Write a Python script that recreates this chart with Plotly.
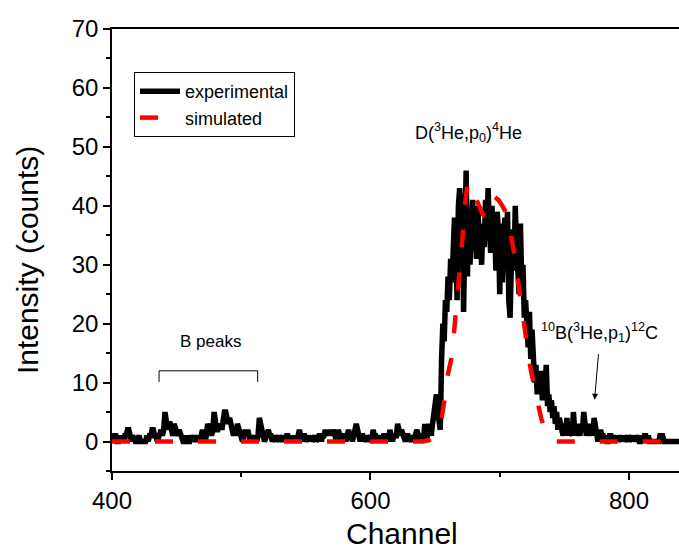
import plotly.graph_objects as go

# ---------------- data ----------------
exp_start = 400
exp_counts = [
    1,0,1,1,0,0,1,0,1,0,
    1,1,2,2,1,0,1,0,0,0,
    1,1,0,0,0,0,0,1,0,1,
    1,2,2,1,1,0,1,1,2,1,
    2,5,3,2,3,3,2,1,3,2,
    1,1,2,1,0,0,0,1,0,0,
    0,1,0,0,1,0,0,1,0,1,
    2,1,0,1,3,2,3,1,2,5,
    3,2,2,3,3,2,4,5,5,4,
    3,4,3,2,1,2,1,3,2,1,
    1,0,1,2,1,2,1,0,1,0,
    0,1,0,1,4,3,1,1,0,1,
    1,2,1,1,0,1,1,0,1,1,
    0,1,1,0,1,1,1,0,1,0,
    1,0,1,0,1,2,1,0,1,1,
    0,1,1,0,1,0,1,1,0,1,
    1,1,0,1,1,2,1,2,1,2,
    1,2,1,1,0,2,1,1,0,1,
    1,0,1,2,1,1,0,1,1,3,
    2,1,0,1,1,0,1,1,0,1,
    1,0,2,1,1,0,1,1,0,1,
    1,1,0,1,0,2,1,0,1,1,
    1,3,2,1,2,1,1,0,1,1,
    0,1,1,0,1,1,2,1,0,1,
    1,0,3,1,1,3,2,1,3,5,
    6,8,5,3,2,14,20,17,24,22,
    28,24,31,27,36,38,34,24,40,43,
    38,42,22,44,46,28,39,30,36,41,
    33,38,31,40,35,34,30,37,33,41,
    35,43,36,32,40,34,38,29,39,36,
    25,37,27,35,38,33,39,24,21,30,
    36,29,40,33,26,25,37,27,30,21,
    24,20,16,22,14,19,12,10,13,8,
    11,9,12,7,10,9,13,6,8,5,
    7,4,6,3,5,2,4,3,2,1,
    3,2,4,1,2,1,1,5,2,3,
    1,2,1,3,2,5,2,1,2,1,
    3,2,1,4,2,1,0,1,2,1,
    1,0,1,0,0,1,1,0,1,1,
    0,1,0,1,1,0,1,0,1,1,
    0,1,1,0,1,0,1,1,0,0,
    1,0,1,1,0,1,0,0,0,0,
    0,0,0,0,1,1,1,0,0,0,
    0,0,0,0,0,0,0,0,0,0,
    0,
]
exp_channels = list(range(exp_start, exp_start + len(exp_counts)))

sim_channels = [400, 500, 600, 640, 645, 650, 653, 655, 658, 660, 663, 665, 667,
                669, 671, 673, 675, 677, 679, 681, 684, 687, 690, 693, 696, 699,
                702, 705, 708, 710, 712, 714, 716, 718, 720, 722, 724, 726, 728,
                730, 732, 734, 736, 738, 740, 742, 760, 800, 840]
sim_counts = [0, 0, 0, 0, 0.2, 0.8, 2, 4, 8, 11.5, 14.5, 19, 24,
              28.5, 34, 40, 43.5, 44, 43, 41.5, 40, 38.5, 38, 39.5, 41.5, 41,
              40, 38.8, 35.7, 33.5, 31, 27.5, 24, 20.5, 18, 15, 12.2, 10, 8,
              5.5, 4, 2.6, 1.5, 0.7, 0.3, 0, 0, 0, 0]

x_range = [400, 838.7]
y_range = [-5, 70]

# annotation anchors (data units)
peak_label_pos = (675.7, 52.4)
c12_label_pos = (777.3, 18.5)
arrow_tail = (776.5, 15.1)
arrow_head = (773.4, 7.1)
bpeaks_label_pos = (476, 16.9)
bracket_x = (436.4, 512.7)
bracket_y = (10.1, 12.0)

FONT = "Liberation Sans, Arial, Helvetica, sans-serif"

fig = go.Figure()
fig.add_trace(go.Scatter(
    x=exp_channels, y=exp_counts, mode="lines", name="experimental",
    line=dict(color="black", width=5.5),
))
fig.add_trace(go.Scatter(
    x=sim_channels, y=sim_counts, mode="lines", name="simulated",
    line=dict(color="#ff0000", width=4.5, dash="18px,25px"),
))

fig.update_layout(
    width=679, height=553,
    margin=dict(l=112, r=0, t=29, b=82),
    paper_bgcolor="white", plot_bgcolor="white",
    font=dict(family=FONT, color="black"),
    showlegend=True,
    legend=dict(
        x=0.0388, y=0.9027, xanchor="left", yanchor="top",
        bgcolor="white", bordercolor="black", borderwidth=1,
        font=dict(family=FONT, size=18, color="black"),
        tracegroupgap=0, itemwidth=40,
    ),
)

fig.update_xaxes(
    range=x_range, showgrid=False, zeroline=False,
    showline=True, linecolor="black", linewidth=1.5, mirror=True,
    ticks="outside", ticklen=7, tickwidth=1.5, tickcolor="black",
    tick0=400, dtick=200,
    minor=dict(dtick=100, ticklen=4, tickwidth=1.5, tickcolor="black", ticks="outside"),
    tickfont=dict(family=FONT, size=24, color="black"),
)
fig.update_yaxes(
    range=y_range, showgrid=False, zeroline=False,
    showline=True, linecolor="black", linewidth=1.5, mirror=False,
    ticks="outside", ticklen=7, tickwidth=1.5, tickcolor="black",
    tick0=0, dtick=10,
    minor=dict(dtick=5, ticklen=4, tickwidth=1.5, tickcolor="black", ticks="outside"),
    tickfont=dict(family=FONT, size=24, color="black"),
)

annotations = [
    dict(text="Channel", xref="paper", yref="paper", x=0.511, y=-0.142,
         xanchor="center", yanchor="middle", showarrow=False,
         font=dict(family=FONT, size=30, color="black")),
    dict(text="Intensity (counts)", xref="paper", yref="paper", x=-0.15, y=0.477,
         xanchor="center", yanchor="middle", textangle=-90, showarrow=False,
         font=dict(family=FONT, size=30, color="black")),
    dict(text="D(<sup>3</sup>He,p<sub>0</sub>)<sup>4</sup>He", xref="x", yref="y",
         x=peak_label_pos[0], y=peak_label_pos[1], showarrow=False,
         font=dict(family=FONT, size=18, color="black")),
    dict(text="<sup>10</sup>B(<sup>3</sup>He,p<sub>1</sub>)<sup>12</sup>C", xref="x", yref="y",
         x=c12_label_pos[0], y=c12_label_pos[1], showarrow=False,
         font=dict(family=FONT, size=18, color="black")),
    dict(text="", xref="x", yref="y", axref="x", ayref="y",
         x=arrow_head[0], y=arrow_head[1], ax=arrow_tail[0], ay=arrow_tail[1],
         showarrow=True, arrowhead=2, arrowsize=1.2, arrowwidth=1, arrowcolor="black"),
    dict(text="B peaks", xref="x", yref="y",
         x=bpeaks_label_pos[0], y=bpeaks_label_pos[1], showarrow=False,
         font=dict(family=FONT, size=17, color="black")),
]
fig.update_layout(annotations=annotations)

fig.add_shape(
    type="path", xref="x", yref="y",
    path=(f"M {bracket_x[0]} {bracket_y[0]} L {bracket_x[0]} {bracket_y[1]} "
          f"L {bracket_x[1]} {bracket_y[1]} L {bracket_x[1]} {bracket_y[0]}"),
    line=dict(color="black", width=1),
)

fig.write_html("out.html")
